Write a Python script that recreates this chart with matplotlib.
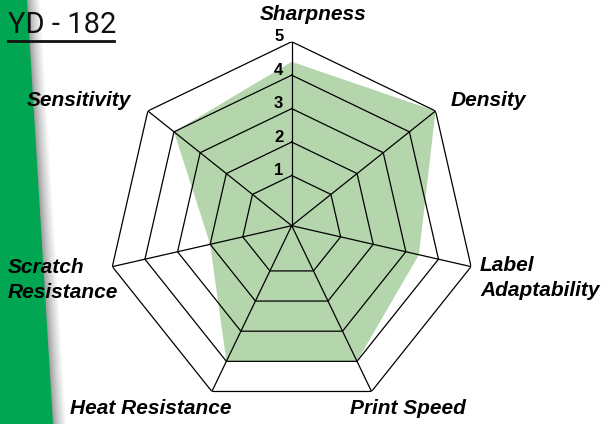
import numpy as np
import matplotlib
matplotlib.use("Agg")
import matplotlib.pyplot as plt
from matplotlib.lines import Line2D

# chart data
categories = ["Sharpness", "Density", "Label Adaptability", "Print Speed",
              "Heat Resistance", "Scratch Resistance", "Sensitivity"]
values = [4.4, 5.0, 3.4, 4.0, 4.0, 2.0, 4.0]
rings = [1, 2, 3, 4, 5]
title = "YD - 182"

W, H = 604, 424
GREEN = "#00a651"
FILL = "#b5d6ac"
BOLD = dict(family=["Liberation Sans", "DejaVu Sans"], fontsize=15,
            fontweight="bold", fontstyle="italic")
NARROW = ["Liberation Sans Narrow", "Liberation Sans", "DejaVu Sans"]

fig = plt.figure(figsize=(W / 100, H / 100), dpi=100)

# background layer: slanted green band with soft shadow on its edge
bg = fig.add_axes([0, 0, 1, 1])
bg.set_xlim(0, W); bg.set_ylim(H, 0); bg.axis("off")
for i in range(14, 0, -1):
    g = 0.55 + 0.45 * (i / 14) ** 0.7
    bg.fill([0, 27 + i, 53 + i, 0], [0, 0, H, H], color=(g, g, g), lw=0)
bg.fill([0, 27, 53, 0], [0, 0, H, H], color=GREEN, lw=0)

# title, underlined
fig.text(8 / W, 1 - 25 / H, title, family=["Roboto", "Liberation Sans"],
         fontsize=21, ha="left", va="center", color="#111111")
fig.add_artist(Line2D([8 / W, 114 / W], [1 - 41 / H, 1 - 41 / H],
                      color="#111111", lw=2))

# radar axes: centre (291.7, 225.7) px, radius 184 px
cx, cy, R = 291.7, 225.7, 184
ax = fig.add_axes([(cx - R) / W, (H - cy - R) / H, 2 * R / W, 2 * R / H],
                  projection="polar")
ax.set_facecolor("none")
ax.set_theta_zero_location("N")
ax.set_theta_direction(-1)
ax.set_ylim(-0.5, 5)
ax.grid(False)
ax.spines["polar"].set_visible(False)
ax.set_xticks([]); ax.set_yticks([])

n = len(categories)
ang = np.linspace(0, 2 * np.pi, n, endpoint=False)
ang_c = np.append(ang, ang[0])

ax.fill(ang_c, values + values[:1], color=FILL, lw=0, zorder=1)
for r in rings:
    ax.plot(ang_c, [r] * (n + 1), color="black", lw=0.9, zorder=2)
for a in ang:
    ax.plot([a, a], [-0.5, 5], color="black", lw=0.9, zorder=2)

for r in rings:
    ax.annotate(str(r), xy=(0, r), xytext=(-13, 5), textcoords="offset pixels",
                ha="center", va="center", family=NARROW, fontsize=12,
                fontweight="bold")

# category labels (pixel positions)
labels = [
    ("Sharpness", 313, 15, "center"),
    ("Density", 451, 101, "left"),
    ("Label\nAdaptability", 480, 278, "left"),
    ("Print Speed", 350, 409, "left"),
    ("Heat Resistance", 70, 409, "left"),
    ("Scratch\nResistance", 8, 280, "left"),
    ("Sensitivity", 27, 101, "left"),
]
for txt, x, y, ha in labels:
    fig.text(x / W, 1 - y / H, txt, ha=ha, va="center", linespacing=1.45,
             **BOLD)

fig.savefig("out.png", dpi=100)
